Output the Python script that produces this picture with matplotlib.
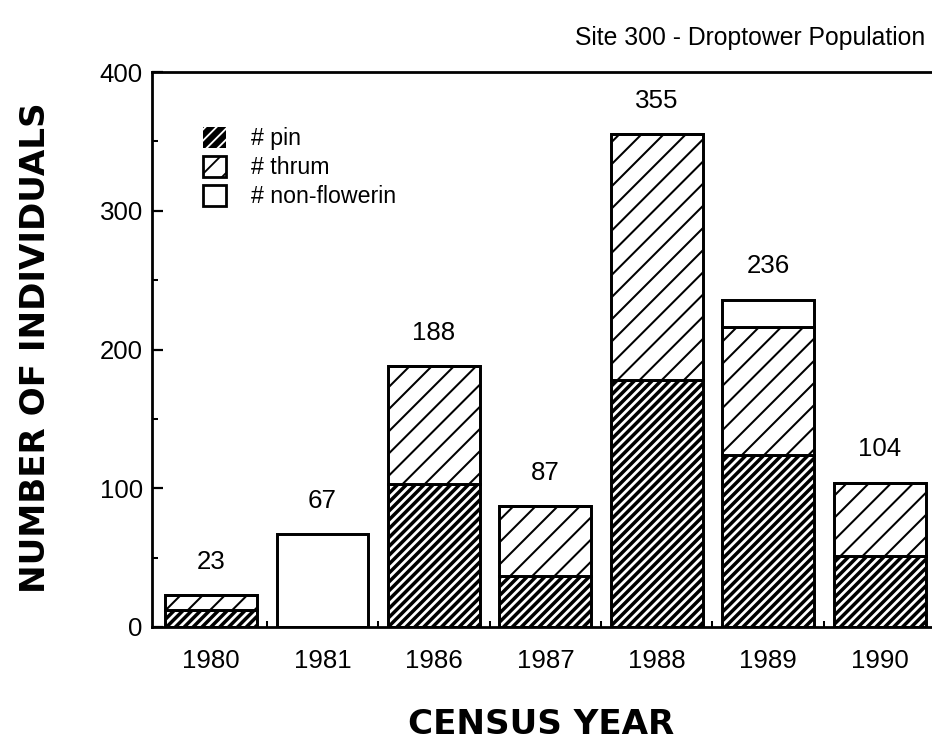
import matplotlib
matplotlib.use("Agg")
import matplotlib.pyplot as plt
from matplotlib.patches import Patch
import numpy as np

years = ["1980", "1981", "1986", "1987", "1988", "1989", "1990"]
pin = [12, 0, 103, 37, 178, 124, 51]
thrum = [11, 0, 85, 50, 177, 92, 53]
nonflower = [0, 67, 0, 0, 0, 20, 0]
totals = [23, 67, 188, 87, 355, 236, 104]

plt.rcParams['font.family'] = ['Liberation Sans', 'DejaVu Sans']

DPI = 133
fig = plt.figure(figsize=(932 / DPI, 746 / DPI), dpi=DPI)
ax = fig.add_axes([152 / 932, 119 / 746, 780 / 932, 555 / 746])

x = np.arange(len(years))
w = 0.825
pin = np.array(pin)
thrum = np.array(thrum)
nonflower = np.array(nonflower)
lw = 1.6

# pin: black with dense white hatch
with plt.rc_context({'hatch.linewidth': 1.5}):
    ax.bar(x, pin, w, color='black', edgecolor='white', hatch='/////', linewidth=0)
ax.bar(x, pin, w, fill=False, edgecolor='black', linewidth=lw)

# thrum: white with sparse black hatch
with plt.rc_context({'hatch.linewidth': 1.1}):
    ax.bar(x, thrum, w, bottom=pin, color='white', edgecolor='black',
           hatch='//', linewidth=lw)

# non-flowering: plain white
ax.bar(x, nonflower, w, bottom=pin + thrum, color='white', edgecolor='black',
       linewidth=lw)

tops = pin + thrum + nonflower
for xi, t, lab in zip(x, tops, totals):
    ax.annotate(str(lab), (xi, t), xytext=(0, 18), textcoords='offset points',
                ha='center', va='center', fontsize=14)

ax.set_xlim(-0.53, 6.47)
ax.set_ylim(0, 400)
ax.set_yticks([0, 100, 200, 300, 400])
ax.set_yticks([50, 150, 250, 350], minor=True)
ax.set_xticks(x)
ax.set_xticklabels(years)
ax.set_xticks(x[:-1] + 0.5, minor=True)
ax.tick_params(axis='x', which='major', length=0, pad=12, labelsize=14)
ax.tick_params(axis='x', which='minor', direction='in', length=3.5, width=1.1)
ax.tick_params(axis='y', which='major', direction='in', length=6, width=1.2,
               pad=5, labelsize=14)
ax.tick_params(axis='y', which='minor', direction='in', length=3, width=1.1)

for s in ['left', 'bottom', 'top']:
    ax.spines[s].set_linewidth(1.5)
ax.spines['right'].set_visible(False)

with plt.rc_context({'hatch.linewidth': 1.2}):
    handles = [Patch(facecolor='black', edgecolor='white', hatch='////', linewidth=0),
               Patch(facecolor='white', edgecolor='black', hatch='//', linewidth=1.5),
               Patch(facecolor='white', edgecolor='black', linewidth=1.5)]
ax.legend(handles, ['# pin', '# thrum', '# non-flowerin'],
          loc='upper left', bbox_to_anchor=(203 / 932, 1 - 127 / 746),
          bbox_transform=fig.transFigure, frameon=False, borderpad=0,
          borderaxespad=0, fontsize=12.5, handlelength=1.0, handleheight=1.0,
          handletextpad=1.1, labelspacing=0.25)

fig.text(925 / 932, 1 - 38 / 746, 'Site 300 - Droptower Population',
         ha='right', va='center', fontsize=13.4)
fig.text(36 / 932, 1 - 348 / 746, 'NUMBER OF INDIVIDUALS', rotation=90,
         ha='center', va='center', fontsize=18.5, fontweight='bold',
         family='DejaVu Sans')
fig.text(541 / 932, 1 - 724 / 746, 'CENSUS YEAR', ha='center', va='center',
         fontsize=18.5, fontweight='bold', family='DejaVu Sans')

fig.savefig('out.png', dpi=DPI)
